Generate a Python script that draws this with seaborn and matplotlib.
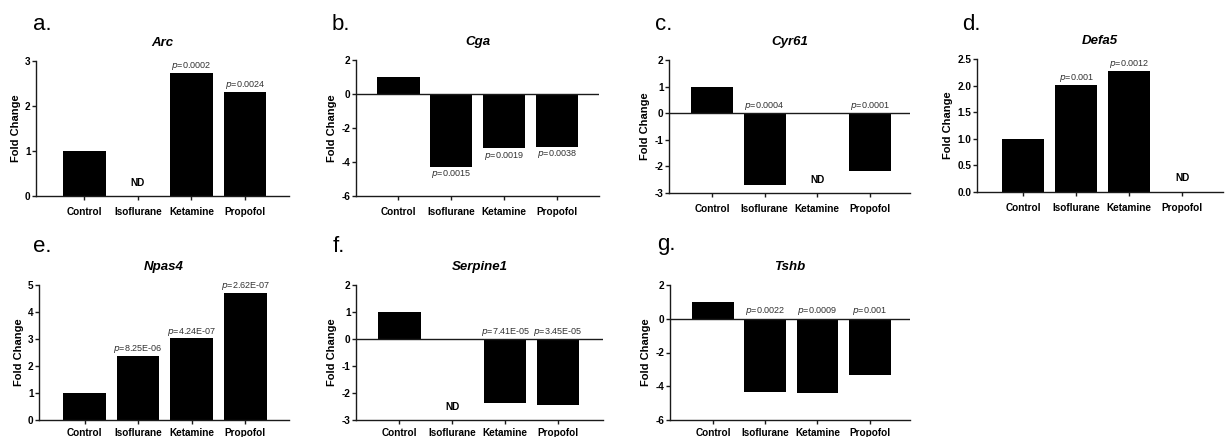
import numpy as np
import pandas as pd
import matplotlib
matplotlib.use("Agg")
import matplotlib.pyplot as plt
import seaborn as sns

# ---------------- data ----------------
categories = ["Control", "Isoflurane", "Ketamine", "Propofol"]
genes = ["Arc", "Cga", "Cyr61", "Defa5", "Npas4", "Serpine1", "Tshb"]
letters = ["a.", "b.", "c.", "d.", "e.", "f.", "g."]

arc_fc = [1.0, np.nan, 2.74, 2.32]
cga_fc = [1.0, -4.3, -3.2, -3.12]
cyr61_fc = [1.0, -2.7, np.nan, -2.18]
defa5_fc = [1.0, 2.01, 2.28, np.nan]
npas4_fc = [1.0, 2.38, 3.02, 4.71]
serpine1_fc = [1.0, np.nan, -2.37, -2.46]
tshb_fc = [1.0, -4.34, -4.38, -3.33]

arc_p = [None, None, "0.0002", "0.0024"]
cga_p = [None, "0.0015", "0.0019", "0.0038"]
cyr61_p = [None, "0.0004", None, "0.0001"]
defa5_p = [None, "0.001", "0.0012", None]
npas4_p = [None, "8.25E-06", "4.24E-07", "2.62E-07"]
serpine1_p = [None, None, "7.41E-05", "3.45E-05"]
tshb_p = [None, "0.0022", "0.0009", "0.001"]

values = [arc_fc, cga_fc, cyr61_fc, defa5_fc, npas4_fc, serpine1_fc, tshb_fc]
pvals = [arc_p, cga_p, cyr61_p, defa5_p, npas4_p, serpine1_p, tshb_p]

yticks = [
    [0, 1, 2, 3],
    [-6, -4, -2, 0, 2],
    [-3, -2, -1, 0, 1, 2],
    [0.0, 0.5, 1.0, 1.5, 2.0, 2.5],
    [0, 1, 2, 3, 4, 5],
    [-3, -2, -1, 0, 1, 2],
    [-6, -4, -2, 0, 2],
]
ytick_fmt = ["{:g}", "{:g}", "{:g}", "{:.1f}", "{:g}", "{:g}", "{:g}"]

# ---------------- layout (pixels) ----------------
W, H = 1227, 437
# left, right, top, bottom of plot area
boxes = [
    (36, 289, 61, 196),
    (356, 599, 60, 196),
    (669, 910, 60, 193),
    (977, 1223, 59, 192),
    (39, 289, 285, 420),
    (356, 603, 285, 420),
    (670, 910, 285, 420),
]
label_pos = [(33, 30), (332, 30), (655, 30), (962, 30),
             (33, 252), (333, 252), (657, 250)]
xlims = [(-0.9, 3.82), (-0.8, 3.79), (-0.82, 3.77), (-0.87, 3.77),
         (-0.85, 3.82), (-0.82, 3.85), (-0.82, 3.77)]
xpad = [5, 5, 5, 5, 3, 3, 3]
# "below" -> p label under bar end; "zero" -> above zero line; "top" -> above bar
p_mode = ["top", "below", "zero", "top", "top", "zero", "zero"]
nd_y = [0.3, None, -2.5, 0.26, None, -2.5, None]

sns.set_theme(style="ticks")
plt.rcParams["font.family"] = ["Liberation Sans", "DejaVu Sans"]
plt.rcParams["axes.linewidth"] = 1.0
plt.rcParams["text.color"] = "black"
plt.rcParams["axes.labelcolor"] = "black"

fig = plt.figure(figsize=(W / 100, H / 100), dpi=100)

for i in range(len(genes)):
    l, r, t, b = boxes[i]
    ax = fig.add_axes([l / W, 1 - b / H, (r - l) / W, (b - t) / H])
    df = pd.DataFrame({"Group": categories, "FC": values[i]}).dropna()
    sns.barplot(data=df, x="Group", y="FC", order=categories, color="black",
                saturation=1, width=0.8, errorbar=None, linewidth=0, ax=ax)
    yt = yticks[i]
    ax.set_ylim(yt[0], yt[-1])
    ax.set_xlim(*xlims[i])
    ax.set_yticks(yt)
    ax.set_yticklabels([ytick_fmt[i].format(v) for v in yt])
    ax.set_xlabel("")
    ax.set_ylabel("Fold Change", fontsize=8, fontweight="bold", labelpad=3,
                  color="black")
    ax.set_title(genes[i], fontsize=9.5, fontweight="bold", fontstyle="italic",
                 pad=11, color="black")
    for s in ["top", "right"]:
        ax.spines[s].set_visible(False)
    for s in ["left", "bottom"]:
        ax.spines[s].set_color("#1a1a1a")
        ax.spines[s].set_linewidth(1.0)
    ax.tick_params(axis="x", direction="out", length=3, width=1, pad=xpad[i],
                   labelsize=7.2, colors="#1a1a1a")
    ax.tick_params(axis="y", direction="out", length=3, width=1, pad=1,
                   labelsize=7.2, colors="#1a1a1a")
    for lab in ax.get_xticklabels() + ax.get_yticklabels():
        lab.set_fontweight("bold")
        lab.set_color("black")
    if yt[0] < 0:
        ax.axhline(0, color="#1a1a1a", lw=1.0, zorder=3)

    span = yt[-1] - yt[0]
    for j, (v, p) in enumerate(zip(values[i], pvals[i])):
        if np.isnan(v):
            ax.text(j, nd_y[i], "ND", ha="center", va="center", fontsize=7.2,
                    fontweight="bold", color="black")
            continue
        if p is None:
            continue
        txt = r"$\it{p}$=" + p
        if p_mode[i] == "top":
            ax.text(j, v + span * 0.005, txt, ha="center", va="bottom",
                    fontsize=6.5, color="#333333")
        elif p_mode[i] == "below":
            ax.text(j, v - span * 0.01, txt, ha="center", va="top",
                    fontsize=6.5, color="#333333")
        else:
            ax.text(j, span * 0.01, txt, ha="center", va="bottom",
                    fontsize=6.5, color="#333333")

    lx, ly = label_pos[i]
    fig.text(lx / W, 1 - ly / H, letters[i], fontsize=16, va="baseline",
             ha="left", color="black")

fig.savefig("out.png", dpi=100)
